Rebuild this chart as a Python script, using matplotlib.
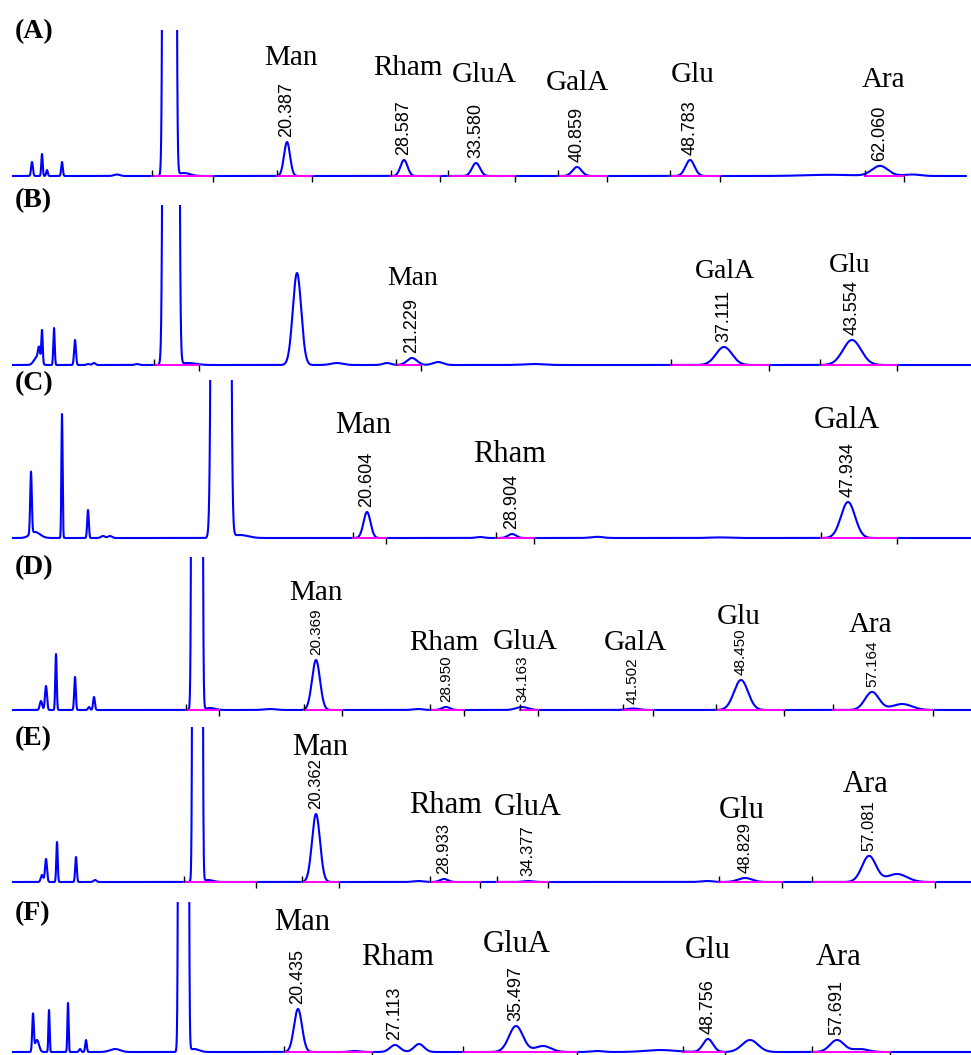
import numpy as np
import matplotlib.pyplot as plt

plt.rcParams['font.family'] = ['Liberation Serif', 'DejaVu Serif']

# ---------------- data ----------------
# x is the retention position across each trace, y the detector signal
# (both in the units the chromatograms were plotted in)
tags = ['(A)', '(B)', '(C)', '(D)', '(E)', '(F)']

# panel A
sugars_A = ['Man', 'Rham', 'GluA', 'GalA', 'Glu', 'Ara']
rt_A = ['20.387', '28.587', '33.580', '40.859', '48.783', '62.060']
pos_A = [287, 404, 476, 577, 690, 880]
height_A = [34, 16, 13, 9, 16, 10]
width_A = [3.0, 3.5, 4.0, 4.5, 4.5, 8.0]
other_A = [(32, 14, 0.9), (42, 22, 0.7), (47, 6, 0.8), (62, 14, 0.8),
           (117, 1.5, 3), (169.5, 1e5, 2.1), (184, 3, 6), (830, 1.2, 25),
           (912, 1.5, 8)]
start_A = [152, 277, 391, 448, 558, 670, 865]
end_A = [213, 312, 440, 515, 607, 720, 904]

# panel B
sugars_B = ['Man', 'GalA', 'Glu']
rt_B = ['21.229', '37.111', '43.554']
pos_B = [412, 724, 852]
height_B = [7, 18, 25]
width_B = [5.0, 8.0, 9.0]
other_B = [(37, 8, 3), (39, 12, 1.0), (42, 33, 0.7), (54, 37, 0.7),
           (75, 25, 0.9), (88, 1, 1.5), (94, 2, 1.5), (137, 1, 2),
           (171, 1e5, 2.5), (188, 2, 8), (297, 92, 4.2), (337, 2, 6),
           (387, 2, 4), (438, 3, 5), (533, 1, 10)]
start_B = [154, 396, 671, 820]
end_B = [199, 421, 769, 897]

# panel C
sugars_C = ['Man', 'Rham', 'GalA']
rt_C = ['20.604', '28.904', '47.934']
pos_C = [367, 512, 848]
height_C = [26, 4, 36]
width_C = [3.5, 4.0, 7.0]
other_C = [(31, 62, 0.8), (35, 6, 5), (62, 124, 0.6), (88, 28, 0.8),
           (103, 2, 2), (110, 2, 2), (221, 1e5, 3.0), (240, 3, 8),
           (480, 1, 4), (597, 1.2, 6), (720, 0.6, 10)]
start_C = [353, 496, 821]
end_C = [386, 534, 897]

# panel D
sugars_D = ['Man', 'Rham', 'GluA', 'GalA', 'Glu', 'Ara']
rt_D = ['20.369', '28.950', '34.163', '41.502', '48.450', '57.164']
pos_D = [316, 446, 522, 633, 741, 872]
height_D = [50, 3, 3, 1.5, 30, 18]
width_D = [4.0, 4.0, 6.0, 6.0, 7.0, 7.0]
other_D = [(41, 9, 1.2), (46, 24, 1.0), (56, 56, 0.7), (75, 33, 0.8),
           (89, 3, 1), (94, 13, 0.9), (197, 1e5, 1.7), (210, 2, 5),
           (270, 1, 6), (418, 1, 5), (902, 6, 10)]
start_D = [186, 304, 430, 520, 623, 716, 833]
end_D = [219, 342, 464, 538, 653, 784, 933]

# panel E
sugars_E = ['Man', 'Rham', 'GluA', 'Glu', 'Ara']
rt_E = ['20.362', '28.933', '34.377', '48.829', '57.081']
pos_E = [316, 444, 528, 745, 869]
height_E = [68, 3, 1, 4, 26]
width_E = [4.0, 4.0, 5.0, 7.0, 7.0]
other_E = [(42, 7, 1.2), (46, 23, 1.0), (57, 40, 0.7), (76, 25, 0.8),
           (95, 2, 1.5), (197.5, 1e5, 1.55), (208, 2, 5), (418, 1, 5),
           (707, 1, 6), (897, 8, 10)]
start_E = [184, 302, 430, 497, 719, 812]
end_E = [256, 339, 480, 548, 782, 935]

# panel F
sugars_F = ['Man', 'Rham', 'GluA', 'Glu', 'Ara']
rt_F = ['20.435', '27.113', '35.497', '48.756', '57.691']
pos_F = [298, 395, 516, 708, 837]
height_F = [43, 7, 26, 13, 12]
width_F = [4.0, 5.0, 7.0, 5.0, 7.0]
other_F = [(33, 37, 0.8), (37, 12, 2), (49, 42, 0.6), (68, 49, 0.6),
           (80, 3, 1), (86, 12, 0.8), (115, 3, 5), (183.5, 1e5, 1.6),
           (194, 3, 5), (355, 1, 5), (419, 8, 5), (543, 6, 8),
           (597, 1, 6), (660, 2, 15), (750, 12, 8), (860, 3, 8)]
start_F = [284, 463, 683, 812]
end_F = [372, 577, 725, 890]

panels = [
    (sugars_A, rt_A, pos_A, height_A, width_A, other_A, start_A, end_A),
    (sugars_B, rt_B, pos_B, height_B, width_B, other_B, start_B, end_B),
    (sugars_C, rt_C, pos_C, height_C, width_C, other_C, start_C, end_C),
    (sugars_D, rt_D, pos_D, height_D, width_D, other_D, start_D, end_D),
    (sugars_E, rt_E, pos_E, height_E, width_E, other_E, start_E, end_E),
    (sugars_F, rt_F, pos_F, height_F, width_F, other_F, start_F, end_F),
]

# ---------------- layout (figure pixels) ----------------
W, H = 971, 1055
panel_top = [30, 205, 380, 557, 727, 902]
panel_base = [176, 365, 538, 710, 882, 1052]
trace_end = [966, 971, 971, 971, 971, 971]
tag_y = [32, 201, 384, 568, 739, 914]
name_y = [[65, 75, 82, 90, 82, 87],
          [285, 278, 272],
          [433, 462, 428],
          [600, 650, 649, 650, 624, 632],
          [755, 813, 815, 818, 792],
          [930, 965, 952, 958, 965]]
name_dx = [[4, 4, 8, 0, 3, 4],
           [1, 1, -2],
           [-4, -2, -1],
           [0, -2, 3, 2, -2, -1],
           [4, 2, 0, -3, -3],
           [4, 3, 1, 0, 2]]
rt_size = [13, 13, 13, 11, 12, 13]
name_size = [21, 20, 22, 21, 22, 22]

BLUE = '#0000FF'
PINK = '#FF00FF'


def signal(x, peaks):
    y = np.zeros_like(x)
    for c, h, s in peaks:
        y += h * np.exp(-0.5 * ((x - c) / s) ** 2)
    return y


fig = plt.figure(figsize=(W / 100, H / 100), dpi=100)

for i, (names, rts, pos, hts, wds, other, starts, ends) in enumerate(panels):
    top, base = panel_top[i], panel_base[i]
    pad = min(10, H - base)
    ax = fig.add_axes([0, (H - base - pad) / H, 1, (base + pad - top) / H])
    ax.set_xlim(0, W)
    ax.set_ylim(-pad, base - top)
    ax.set_axis_off()
    ax.patch.set_visible(False)

    peaks = list(zip(pos, hts, wds)) + list(other)
    x = np.arange(13, trace_end[i], 0.1)
    y = signal(x, peaks)
    ax.plot(x, y, color=BLUE, lw=1.5, zorder=2)

    # integration baselines and start/end marks
    for s, e in zip(starts, ends):
        ax.plot([s, e], [0, 0], color=PINK, lw=1.4, zorder=3)
    ax.vlines(starts, 0, 6, color='black', lw=1, zorder=4)
    ax.vlines(ends, -6, 0, color='black', lw=1, zorder=4)

    # retention times and sugar names
    for j, (nm, rt, c) in enumerate(zip(names, rts, pos)):
        ytop = signal(np.array([float(c)]), peaks)[0]
        ax.text(c, ytop + 5, rt, rotation=90, ha='center', va='bottom',
                fontsize=rt_size[i], family=['Liberation Sans', 'DejaVu Sans'])
        ax.text(c + name_dx[i][j], base - name_y[i][j], nm, ha='center',
                va='baseline', fontsize=name_size[i])

    ax.text(15, base - tag_y[i], tags[i], ha='left', va='center',
            fontsize=20, fontweight='bold')

fig.savefig('out.png', dpi=100)
